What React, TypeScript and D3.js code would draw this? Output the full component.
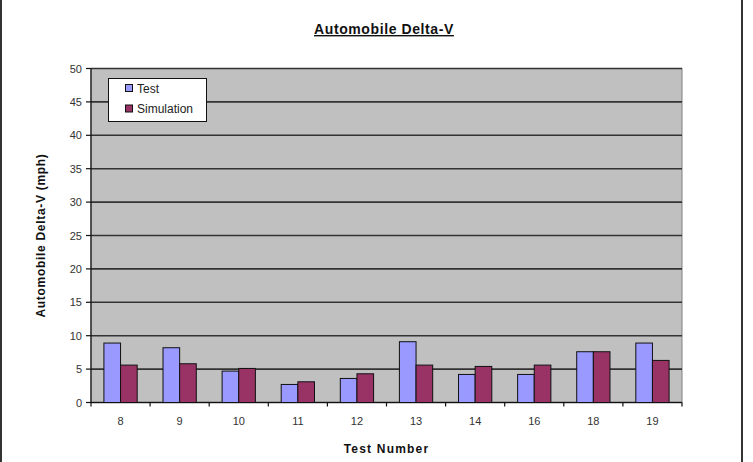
import React from "react";
import { scaleBand, scaleLinear } from "d3";

// values
const categories = ["8", "9", "10", "11", "12", "13", "14", "16", "18", "19"];
const testValues = [8.9, 8.2, 4.7, 2.7, 3.6, 9.1, 4.2, 4.2, 7.6, 8.9];
const simulationValues = [5.6, 5.8, 5.1, 3.1, 4.3, 5.6, 5.4, 5.6, 7.6, 6.3];
const yTicks = [0, 5, 10, 15, 20, 25, 30, 35, 40, 45, 50];
const seriesNames = ["Test", "Simulation"];
const seriesColors = ["#9999ff", "#993366"];

const W = 753;
const H = 462;
const left = 91;
const right = 682;
const top = 68.5;
const bottom = 402.5;
const font = "'Liberation Sans', Arial, sans-serif";

const App = () => {
  const x0 = scaleBand<string>()
    .domain(categories)
    .range([left, right])
    .paddingInner(0.437)
    .paddingOuter(0.2185);
  const x1 = scaleBand<string>().domain(seriesNames).range([0, x0.bandwidth()]);
  const y = scaleLinear().domain([0, 50]).range([bottom, top]);
  const step = x0.step();
  const series = [testValues, simulationValues];

  return (
    <svg
      width={W}
      height={H}
      style={{ position: "absolute", left: 0, top: 0, background: "#fff" }}
    >
      {/* outer frame sides */}
      <line x1={1} x2={1} y1={0} y2={H} stroke="#333" strokeWidth={2} />
      <line x1={742} x2={742} y1={0} y2={H} stroke="#333" strokeWidth={2} />

      {/* title */}
      <text
        x={384}
        y={34}
        textAnchor="middle"
        fontFamily={font}
        fontWeight="bold"
        fontSize={14}
        letterSpacing={0.6}
        textDecoration="underline"
        fill="#111"
      >
        Automobile Delta-V
      </text>

      {/* plot background */}
      <rect x={left} y={top} width={right - left} height={bottom - top} fill="#c0c0c0" stroke="#808080" strokeWidth={1} />

      {/* gridlines */}
      {yTicks.map((t) => (
        <line key={t} x1={left} x2={right} y1={y(t)} y2={y(t)} stroke="#333" strokeWidth={1.6} />
      ))}

      {/* bars */}
      {categories.map((c, i) => (
        <g key={c}>
          {series.map((vals, s) => (
            <rect
              key={s}
              x={(x0(c) ?? 0) + (x1(seriesNames[s]) ?? 0)}
              y={y(vals[i])}
              width={x1.bandwidth()}
              height={bottom - y(vals[i])}
              fill={seriesColors[s]}
              stroke="#111"
              strokeWidth={1}
            />
          ))}
        </g>
      ))}

      {/* y axis */}
      <line x1={left} x2={left} y1={top} y2={bottom} stroke="#111" strokeWidth={1.2} />
      {yTicks.map((t) => (
        <g key={t}>
          <line x1={left - 5} x2={left} y1={y(t)} y2={y(t)} stroke="#111" strokeWidth={1.2} />
          <text
            x={82}
            y={y(t) + 4}
            textAnchor="end"
            fontFamily={font}
            fontSize={11}
            fill="#333"
          >
            {t}
          </text>
        </g>
      ))}

      {/* x axis */}
      <line x1={left} x2={right} y1={bottom} y2={bottom} stroke="#111" strokeWidth={1.2} />
      {categories.map((c, i) => (
        <line
          key={"t" + c}
          x1={left + step * i}
          x2={left + step * i}
          y1={bottom}
          y2={bottom + 4}
          stroke="#111"
          strokeWidth={1.2}
        />
      ))}
      <line x1={right} x2={right} y1={bottom} y2={bottom + 4} stroke="#111" strokeWidth={1.2} />
      {categories.map((c) => (
        <text
          key={"l" + c}
          x={(x0(c) ?? 0) + x0.bandwidth() / 2}
          y={425}
          textAnchor="middle"
          fontFamily={font}
          fontSize={11}
          fill="#333"
        >
          {c}
        </text>
      ))}

      {/* axis titles */}
      <text
        x={(left + right) / 2}
        y={453}
        textAnchor="middle"
        fontFamily={font}
        fontWeight="bold"
        fontSize={12}
        letterSpacing={1.2}
        fill="#111"
      >
        Test Number
      </text>
      <text
        transform={`translate(45, ${(top + bottom) / 2}) rotate(-90)`}
        textAnchor="middle"
        fontFamily={font}
        fontWeight="bold"
        fontSize={12}
        letterSpacing={0.7}
        fill="#111"
      >
        Automobile Delta-V (mph)
      </text>

      {/* legend */}
      <rect x={108.5} y={78.5} width={98} height={43} fill="#fff" stroke="#111" strokeWidth={1} />
      {seriesNames.map((name, s) => (
        <g key={name}>
          <rect
            x={125.5}
            y={84.5 + s * 20.5}
            width={7}
            height={7}
            fill={seriesColors[s]}
            stroke="#111"
            strokeWidth={1}
          />
          <text x={137} y={92.5 + s * 20.5} fontFamily={font} fontSize={12} fill="#222">
            {name}
          </text>
        </g>
      ))}
    </svg>
  );
};

export default App;
